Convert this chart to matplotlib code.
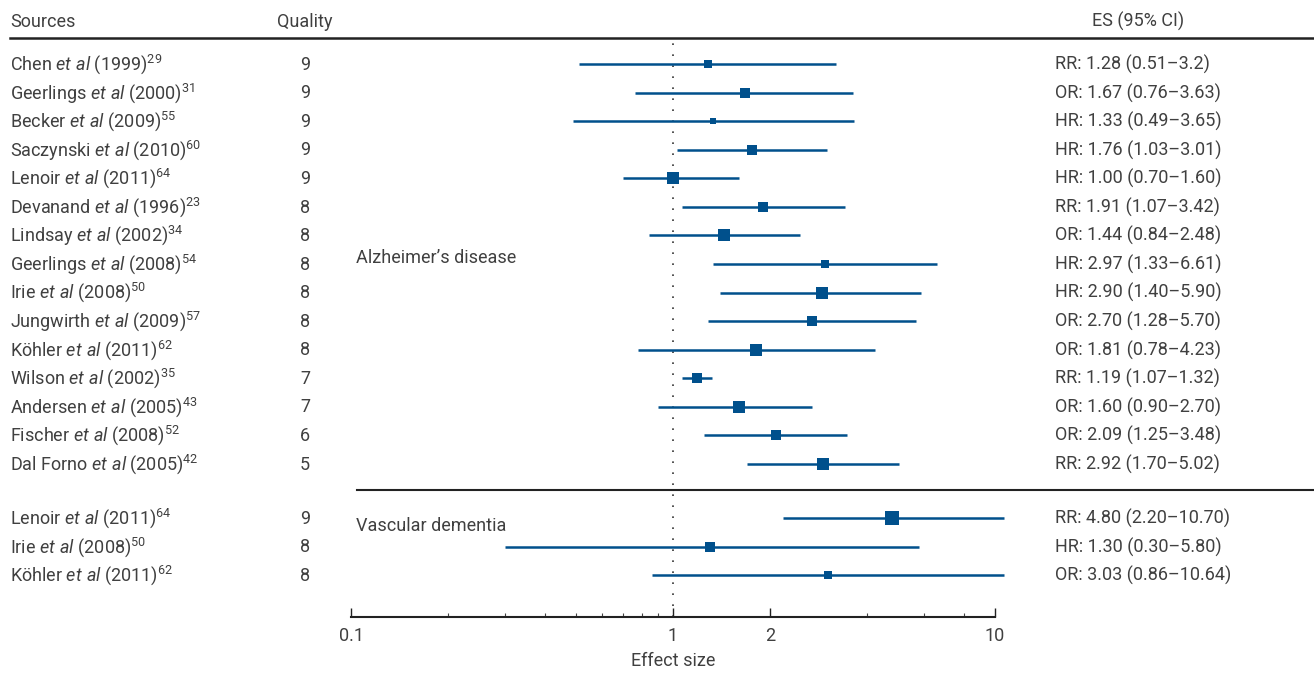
import matplotlib
matplotlib.use('Agg')
import matplotlib.pyplot as plt
import matplotlib.transforms as mtransforms
from matplotlib.lines import Line2D

plt.rcParams['font.family'] = 'Roboto'
plt.rcParams['font.weight'] = 'normal'
plt.rcParams['mathtext.fontset'] = 'custom'
plt.rcParams['mathtext.rm'] = 'Roboto'
plt.rcParams['mathtext.it'] = 'Roboto:italic'

# ----------------------------------------------------------------------
# Data

authors = ['Chen', 'Geerlings', 'Becker', 'Saczynski', 'Lenoir', 'Devanand',
           'Lindsay', 'Geerlings', 'Irie', 'Jungwirth', 'K\u00f6hler', 'Wilson',
           'Andersen', 'Fischer', 'Dal Forno',
           'Lenoir', 'Irie', 'K\u00f6hler']
years = ['1999', '2000', '2009', '2010', '2011', '1996', '2002', '2008', '2008',
         '2009', '2011', '2002', '2005', '2008', '2005',
         '2011', '2008', '2011']
refs = ['29', '31', '55', '60', '64', '23', '34', '54', '50', '57', '62', '35',
        '43', '52', '42',
        '64', '50', '62']
quality = [9, 9, 9, 9, 9, 8, 8, 8, 8, 8, 8, 7, 7, 6, 5,
           9, 8, 8]
measure = ['RR', 'OR', 'HR', 'HR', 'HR', 'RR', 'OR', 'HR', 'HR', 'OR', 'OR', 'RR',
           'OR', 'OR', 'RR',
           'RR', 'HR', 'OR']
es = [1.28, 1.67, 1.33, 1.76, 1.00, 1.91, 1.44, 2.97, 2.90, 2.70, 1.81, 1.19,
      1.60, 2.09, 2.92,
      4.80, 1.30, 3.03]
ci_lo = [0.51, 0.76, 0.49, 1.03, 0.70, 1.07, 0.84, 1.33, 1.40, 1.28, 0.78, 1.07,
         0.90, 1.25, 1.70,
         2.20, 0.30, 0.86]
ci_hi = [3.2, 3.63, 3.65, 3.01, 1.60, 3.42, 2.48, 6.61, 5.90, 5.70, 4.23, 1.32,
         2.70, 3.48, 5.02,
         10.70, 5.80, 10.64]
ci_text = ['0.51\u20133.2', '0.76\u20133.63', '0.49\u20133.65', '1.03\u20133.01',
           '0.70\u20131.60', '1.07\u20133.42', '0.84\u20132.48', '1.33\u20136.61',
           '1.40\u20135.90', '1.28\u20135.70', '0.78\u20134.23', '1.07\u20131.32',
           '0.90\u20132.70', '1.25\u20133.48', '1.70\u20135.02',
           '2.20\u201310.70', '0.30\u20135.80', '0.86\u201310.64']
es_text = ['1.28', '1.67', '1.33', '1.76', '1.00', '1.91', '1.44', '2.97', '2.90',
           '2.70', '1.81', '1.19', '1.60', '2.09', '2.92',
           '4.80', '1.30', '3.03']
# study weight, shown as the box side (approx. pixels)
weights = [7.3, 10, 7, 10, 12.7, 10, 12, 8.3, 11.3, 9.7, 11.7, 10.3, 12.3, 9.7, 11.7,
           14.7, 11, 9]
group = ['AD'] * 15 + ['VD'] * 3
group_names = {'AD': 'Alzheimer\u2019s disease', 'VD': 'Vascular dementia'}

major_ticks = [0.1, 1, 2, 10]
major_labels = ['0.1', '1', '2', '10']
minor_ticks = [0.2, 0.3, 0.4, 0.5, 0.6, 0.7, 0.8, 0.9, 4, 6, 8]

# ----------------------------------------------------------------------

W, H = 1314, 677
BLUE = '#00508c'
TXT = '#404040'
FS = 13

fig = plt.figure(figsize=(W / 100, H / 100), dpi=100)
ax = fig.add_axes([351 / W, (H - 617) / H, 644 / W, (617 - 38) / H])

# row positions: the VD block sits a bit lower than the AD block
rows = []
for i, g in enumerate(group):
    rows.append(i if g == 'AD' else i + 0.9)

ax.set_xscale('log')
ax.set_xlim(0.1, 10)
ax.set_ylim(19.36, -0.91)

ax.axvline(1, color='#333333', lw=1.2, linestyle=(0, (1, 5.6)), zorder=1)

for y, m, lo, hi, w in zip(rows, es, ci_lo, ci_hi, weights):
    ax.plot([lo, hi], [y, y], color=BLUE, lw=1.8, solid_capstyle='butt',
            clip_on=False, zorder=2)
    ax.plot(m, y, marker='s', ms=w / 1.389, color=BLUE, mew=0, clip_on=False,
            zorder=3)

for side in ['left', 'top', 'right']:
    ax.spines[side].set_visible(False)
ax.spines['bottom'].set_linewidth(1.5)
ax.spines['bottom'].set_color('#222222')
ax.set_yticks([])
ax.set_xticks(major_ticks)
ax.set_xticklabels(major_labels)
ax.set_xticks(minor_ticks, minor=True)
ax.xaxis.set_minor_formatter(matplotlib.ticker.NullFormatter())
ax.tick_params(axis='x', which='major', direction='in', length=6.5, width=1,
               pad=7, labelsize=FS, labelcolor=TXT, color='#222222')
ax.tick_params(axis='x', which='minor', direction='in', length=3, width=0.8,
               color='#444444')
ax.set_xlabel('Effect size', fontsize=FS, color=TXT, labelpad=5)

# text columns (x in figure fraction, y in row units)
tr = mtransforms.blended_transform_factory(fig.transFigure, ax.transData)
off = 0.2
for y, a, yr, r, q, ms_, e, c in zip(rows, authors, years, refs, quality,
                                     measure, es_text, ci_text):
    lab = a + r' $\mathit{et\ al}$ (' + yr + r')$^{\mathrm{' + r + '}}$'
    ax.text(10 / W, y + off, lab, transform=tr, fontsize=FS, color=TXT,
            ha='left', va='baseline')
    ax.text(305 / W, y + off, str(q), transform=tr, fontsize=FS, color=TXT,
            ha='center', va='baseline')
    ax.text(1055 / W, y + off, ms_ + ': ' + e + ' (' + c + ')', transform=tr,
            fontsize=FS, color=TXT, ha='left', va='baseline')

# group labels
ax.text(356 / W, 6.76 + off, group_names['AD'], transform=tr, fontsize=FS,
        color=TXT, ha='left', va='baseline')
ax.text(356 / W, 16.14 + off, group_names['VD'], transform=tr, fontsize=FS,
        color=TXT, ha='left', va='baseline')

# header
hy = 1 - 27 / H
fig.text(10 / W, hy, 'Sources', fontsize=FS, color=TXT, ha='left', va='baseline')
fig.text(305 / W, hy, 'Quality', fontsize=FS, color=TXT, ha='center', va='baseline')
fig.text(1138 / W, hy, 'ES (95% CI)', fontsize=FS, color=TXT, ha='center',
         va='baseline')

# rules
fig.add_artist(Line2D([10 / W, 1], [1 - 38 / H, 1 - 38 / H], color='#222222',
                      lw=1.8, transform=fig.transFigure))
fig.add_artist(Line2D([357 / W, 1], [1 - 490 / H, 1 - 490 / H], color='#222222',
                      lw=1.5, transform=fig.transFigure))

fig.savefig('out.png', dpi=100)
